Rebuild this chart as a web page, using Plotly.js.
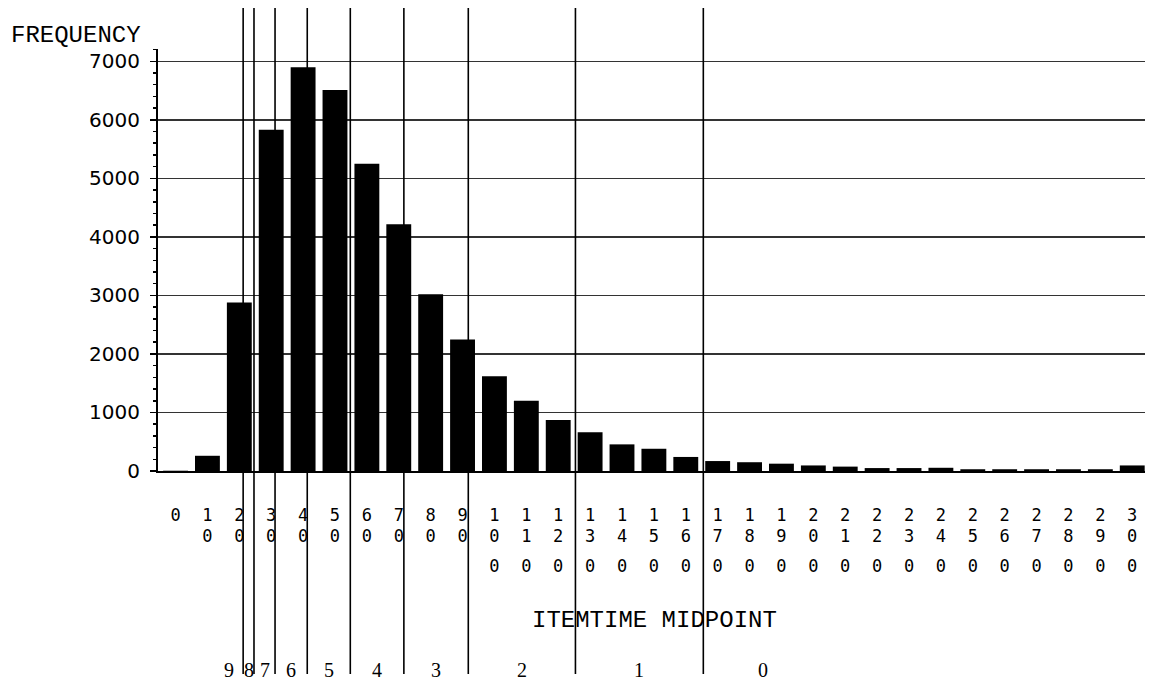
<!DOCTYPE html>
<html>
<head>
<meta charset="utf-8">
<script src="https://cdn.plot.ly/plotly-3.0.1.min.js"></script>
<style>
html,body{margin:0;padding:0;background:#fff;}
#chart{width:1151px;height:683px;}
</style>
</head>
<body>
<div id="chart"></div>
<script>
// ---- data ----
const midpoints = [0,10,20,30,40,50,60,70,80,90,100,110,120,130,140,150,160,170,180,190,200,210,220,230,240,250,260,270,280,290,300];
const frequency = [5,260,2880,5830,6900,6510,5250,4215,3020,2245,1620,1200,870,660,455,380,240,170,150,125,95,75,50,50,55,30,30,30,30,30,95];
const boundaryTimes = [21.2,24.6,31.2,41.3,54.8,71.6,91.8,125.4,165.5];
const groupEdges = [12.5,203];
const groupLabels = ['9','8','7','6','5','4','3','2','1','0'];
const yTickValues = [0,1000,2000,3000,4000,5000,6000,7000];
const yTitle = 'FREQUENCY';
const xTitle = 'ITEMTIME MIDPOINT';

// digit rows of the stacked tick labels
const digitRow = r => midpoints.map(v => { const s = String(v); return r < s.length ? s[r] : ''; });

const edges = [groupEdges[0]].concat(boundaryTimes, [groupEdges[1]]);
const groupLabelX = groupLabels.map((_, i) => (edges[i] + edges[i + 1]) / 2);

const xRange = [-5.5, 304];
const tickFont = {family: 'DejaVu Sans Mono', size: 17, color: '#000'};

function rowAxis(row, standoff, extra) {
  return Object.assign({
    type: 'linear', range: xRange, tickmode: 'array',
    tickvals: midpoints, ticktext: digitRow(row),
    ticks: '', showgrid: false, zeroline: false,
    tickfont: tickFont, ticklabelstandoff: standoff,
    fixedrange: true
  }, extra || {});
}

const traces = [
  {type: 'bar', x: midpoints, y: frequency, width: 7.8,
   marker: {color: '#000', line: {width: 0}}, hoverinfo: 'x+y', showlegend: false},
  {type: 'scatter', x: [], y: [], xaxis: 'x2', yaxis: 'y', showlegend: false, hoverinfo: 'skip'},
  {type: 'scatter', x: [], y: [], xaxis: 'x3', yaxis: 'y', showlegend: false, hoverinfo: 'skip'}
];

const layout = {
  width: 1151, height: 683,
  margin: {l: 158, r: 6, t: 49, b: 212, pad: 0},
  paper_bgcolor: '#fff', plot_bgcolor: '#fff',
  showlegend: false,
  xaxis: rowAxis(0, 28, {showline: true, linecolor: '#000', linewidth: 2}),
  xaxis2: rowAxis(1, 53, {overlaying: 'x', anchor: 'y', side: 'bottom', showline: false}),
  xaxis3: rowAxis(2, 83, {overlaying: 'x', anchor: 'y', side: 'bottom', showline: false}),
  yaxis: {
    range: [0, 7210], tickmode: 'array', tickvals: yTickValues,
    ticks: 'outside', ticklen: 6, tickwidth: 1.5, tickcolor: '#000',
    showline: true, linewidth: 2, linecolor: '#000',
    showgrid: true, gridcolor: '#333', gridwidth: 1.5, zeroline: false,
    tickfont: {family: 'DejaVu Sans', size: 20, color: '#000'},
    ticklabelstandoff: 6,
    minor: {dtick: 200, tick0: 0, ticks: 'outside', ticklen: 3, tickwidth: 1.5, tickcolor: '#000', showgrid: false},
    fixedrange: true
  },
  shapes: boundaryTimes.map(t => ({
    type: 'line', xref: 'x', yref: 'paper', x0: t, x1: t, y0: -0.481, y1: 1.097,
    line: {color: '#000', width: 1.6}, layer: 'above'
  })),
  annotations: [
    {text: yTitle, xref: 'paper', yref: 'paper', x: -0.083, y: 1.033, xanchor: 'center', yanchor: 'middle',
     showarrow: false, font: {family: 'Liberation Mono', size: 24, color: '#000'}},
    {text: xTitle, xref: 'paper', yref: 'paper', x: 0.5035, y: -0.355, xanchor: 'center', yanchor: 'middle',
     showarrow: false, font: {family: 'Liberation Mono', size: 24, color: '#000'}}
  ].concat(groupLabels.map((lab, i) => ({
    text: lab, xref: 'x', yref: 'paper', x: groupLabelX[i], y: -0.4716,
    xanchor: 'center', yanchor: 'middle', showarrow: false,
    font: {family: 'Liberation Serif', size: 20, color: '#000'}
  })))
};

Plotly.newPlot('chart', traces, layout, {displayModeBar: false, staticPlot: true});
</script>
</body>
</html>
